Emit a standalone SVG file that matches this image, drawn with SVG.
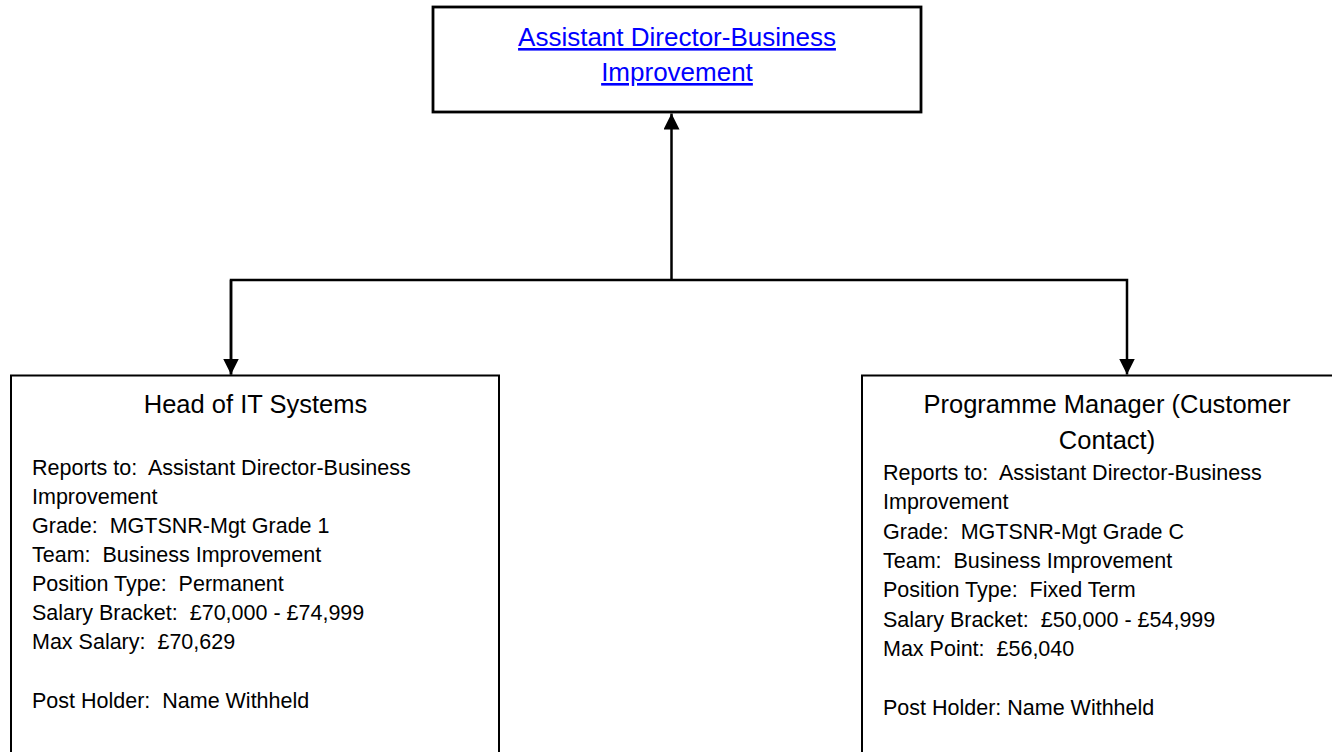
<svg xmlns="http://www.w3.org/2000/svg" width="1332" height="752" viewBox="0 0 1332 752">
<style>
  .box { fill: #ffffff; stroke: #000000; }
  .title { font-family: "Liberation Sans", Arial, sans-serif; font-size: 25.5px; fill: #000000; text-anchor: middle; }
  .body { font-family: "Liberation Sans", Arial, sans-serif; font-size: 21.5px; fill: #000000; white-space: pre; }
  .link { font-family: "Liberation Sans", Arial, sans-serif; font-size: 26px; fill: #0000ff; text-anchor: middle; text-decoration: underline; }
  .conn { fill: none; stroke: #000000; stroke-width: 2.5; }
</style>
<defs>
  <marker id="arrow" viewBox="0 0 10 10" refX="10" refY="5" markerWidth="6.4" markerHeight="6.4" markerUnits="strokeWidth" orient="auto">
    <path d="M0,0 L10,5 L0,10 Z" fill="#000000"/>
  </marker>
</defs>
<rect width="1332" height="752" fill="#ffffff"/>
<g id="connectors">
  <path class="conn" d="M671.5,281 L671.5,113.5" marker-end="url(#arrow)"/>
  <path class="conn" d="M231,374.5 L231,280 L1127,280 L1127,374.5" marker-end="url(#arrow)"/>
  <path class="conn" d="M231,280 L231,374.5" marker-end="url(#arrow)"/>
</g>
<g id="node-assistant-director">
  <rect class="box" x="433" y="7" width="488" height="105" stroke-width="2.8"/>
  <text class="link" x="677" y="46">Assistant Director-Business</text>
  <text class="link" x="677" y="81">Improvement</text>
</g>
<g id="node-head-it">
  <rect class="box" x="11" y="375.5" width="488" height="400" stroke-width="2"/>
  <text class="title" x="255.5" y="413">Head of IT Systems</text>
  <text class="body" x="32" y="475">Reports to:  Assistant Director-Business</text>
  <text class="body" x="32" y="504">Improvement</text>
  <text class="body" x="32" y="533">Grade:  MGTSNR-Mgt Grade 1</text>
  <text class="body" x="32" y="562">Team:  Business Improvement</text>
  <text class="body" x="32" y="591">Position Type:  Permanent</text>
  <text class="body" x="32" y="620">Salary Bracket:  £70,000 - £74,999</text>
  <text class="body" x="32" y="649">Max Salary:  £70,629</text>
  <text class="body" x="32" y="708">Post Holder:  Name Withheld</text>
</g>
<g id="node-programme-manager">
  <rect class="box" x="862" y="375.5" width="490" height="400" stroke-width="2"/>
  <text class="title" x="1107" y="413">Programme Manager (Customer</text>
  <text class="title" x="1107" y="449">Contact)</text>
  <text class="body" x="883" y="480">Reports to:  Assistant Director-Business</text>
  <text class="body" x="883" y="509">Improvement</text>
  <text class="body" x="883" y="539">Grade:  MGTSNR-Mgt Grade C</text>
  <text class="body" x="883" y="568">Team:  Business Improvement</text>
  <text class="body" x="883" y="597">Position Type:  Fixed Term</text>
  <text class="body" x="883" y="627">Salary Bracket:  £50,000 - £54,999</text>
  <text class="body" x="883" y="656">Max Point:  £56,040</text>
  <text class="body" x="883" y="715">Post Holder: Name Withheld</text>
</g>
</svg>
